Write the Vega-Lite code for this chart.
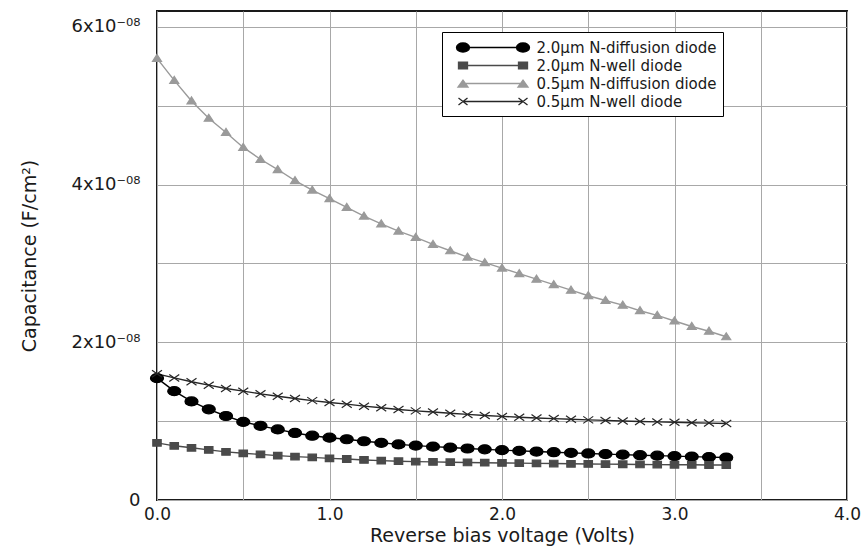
{
  "$schema": "https://vega.github.io/schema/vega-lite/v6.json",
  "autosize": {"type": "none"},
  "padding": {"left": 157, "top": 11, "right": 20, "bottom": 50},
  "width": 690,
  "height": 489,
  "config": {
    "view": {"stroke": "#1a1a1a", "strokeWidth": 2},
    "font": "DejaVu Sans",
    "axis": {
      "labelFont": "DejaVu Sans", "titleFont": "DejaVu Sans", "labelColor": "#1a1a1a", "titleColor": "#1a1a1a",
      "titleFontWeight": "normal", "gridColor": "#a8a8a8", "gridWidth": 1, "gridOpacity": 1,
      "domain": false, "ticks": false, "labelOverlap": false, "labelBound": false
    },
    "legend": {
      "title": null, "orient": "none", "legendX": 285, "legendY": 21,
      "strokeColor": "#000000", "fillColor": "#ffffff", "padding": 6,
      "labelFontSize": 15, "labelFont": "DejaVu Sans", "labelColor": "#1a1a1a",
      "rowPadding": 0, "labelLimit": 300
    }
  },
  "data": {"values": [
    {"diode": "2.0µm N-diffusion diode", "v": 0.0, "c": 1.545e-8},
    {"diode": "2.0µm N-diffusion diode", "v": 0.1, "c": 1.38e-8},
    {"diode": "2.0µm N-diffusion diode", "v": 0.2, "c": 1.25e-8},
    {"diode": "2.0µm N-diffusion diode", "v": 0.3, "c": 1.15e-8},
    {"diode": "2.0µm N-diffusion diode", "v": 0.4, "c": 1.065e-8},
    {"diode": "2.0µm N-diffusion diode", "v": 0.5, "c": 0.99e-8},
    {"diode": "2.0µm N-diffusion diode", "v": 0.6, "c": 0.94e-8},
    {"diode": "2.0µm N-diffusion diode", "v": 0.7, "c": 0.895e-8},
    {"diode": "2.0µm N-diffusion diode", "v": 0.8, "c": 0.85e-8},
    {"diode": "2.0µm N-diffusion diode", "v": 0.9, "c": 0.815e-8},
    {"diode": "2.0µm N-diffusion diode", "v": 1.0, "c": 0.79e-8},
    {"diode": "2.0µm N-diffusion diode", "v": 1.1, "c": 0.77e-8},
    {"diode": "2.0µm N-diffusion diode", "v": 1.2, "c": 0.745e-8},
    {"diode": "2.0µm N-diffusion diode", "v": 1.3, "c": 0.725e-8},
    {"diode": "2.0µm N-diffusion diode", "v": 1.4, "c": 0.705e-8},
    {"diode": "2.0µm N-diffusion diode", "v": 1.5, "c": 0.69e-8},
    {"diode": "2.0µm N-diffusion diode", "v": 1.6, "c": 0.677e-8},
    {"diode": "2.0µm N-diffusion diode", "v": 1.7, "c": 0.665e-8},
    {"diode": "2.0µm N-diffusion diode", "v": 1.8, "c": 0.653e-8},
    {"diode": "2.0µm N-diffusion diode", "v": 1.9, "c": 0.642e-8},
    {"diode": "2.0µm N-diffusion diode", "v": 2.0, "c": 0.632e-8},
    {"diode": "2.0µm N-diffusion diode", "v": 2.1, "c": 0.623e-8},
    {"diode": "2.0µm N-diffusion diode", "v": 2.2, "c": 0.614e-8},
    {"diode": "2.0µm N-diffusion diode", "v": 2.3, "c": 0.606e-8},
    {"diode": "2.0µm N-diffusion diode", "v": 2.4, "c": 0.598e-8},
    {"diode": "2.0µm N-diffusion diode", "v": 2.5, "c": 0.59e-8},
    {"diode": "2.0µm N-diffusion diode", "v": 2.6, "c": 0.582e-8},
    {"diode": "2.0µm N-diffusion diode", "v": 2.7, "c": 0.575e-8},
    {"diode": "2.0µm N-diffusion diode", "v": 2.8, "c": 0.568e-8},
    {"diode": "2.0µm N-diffusion diode", "v": 2.9, "c": 0.562e-8},
    {"diode": "2.0µm N-diffusion diode", "v": 3.0, "c": 0.556e-8},
    {"diode": "2.0µm N-diffusion diode", "v": 3.1, "c": 0.55e-8},
    {"diode": "2.0µm N-diffusion diode", "v": 3.2, "c": 0.544e-8},
    {"diode": "2.0µm N-diffusion diode", "v": 3.3, "c": 0.538e-8},
    {"diode": "2.0µm N-well diode", "v": 0.0, "c": 0.725e-8},
    {"diode": "2.0µm N-well diode", "v": 0.1, "c": 0.687e-8},
    {"diode": "2.0µm N-well diode", "v": 0.2, "c": 0.662e-8},
    {"diode": "2.0µm N-well diode", "v": 0.3, "c": 0.635e-8},
    {"diode": "2.0µm N-well diode", "v": 0.4, "c": 0.61e-8},
    {"diode": "2.0µm N-well diode", "v": 0.5, "c": 0.592e-8},
    {"diode": "2.0µm N-well diode", "v": 0.6, "c": 0.578e-8},
    {"diode": "2.0µm N-well diode", "v": 0.7, "c": 0.562e-8},
    {"diode": "2.0µm N-well diode", "v": 0.8, "c": 0.55e-8},
    {"diode": "2.0µm N-well diode", "v": 0.9, "c": 0.54e-8},
    {"diode": "2.0µm N-well diode", "v": 1.0, "c": 0.528e-8},
    {"diode": "2.0µm N-well diode", "v": 1.1, "c": 0.52e-8},
    {"diode": "2.0µm N-well diode", "v": 1.2, "c": 0.508e-8},
    {"diode": "2.0µm N-well diode", "v": 1.3, "c": 0.499e-8},
    {"diode": "2.0µm N-well diode", "v": 1.4, "c": 0.492e-8},
    {"diode": "2.0µm N-well diode", "v": 1.5, "c": 0.487e-8},
    {"diode": "2.0µm N-well diode", "v": 1.6, "c": 0.483e-8},
    {"diode": "2.0µm N-well diode", "v": 1.7, "c": 0.479e-8},
    {"diode": "2.0µm N-well diode", "v": 1.8, "c": 0.476e-8},
    {"diode": "2.0µm N-well diode", "v": 1.9, "c": 0.473e-8},
    {"diode": "2.0µm N-well diode", "v": 2.0, "c": 0.47e-8},
    {"diode": "2.0µm N-well diode", "v": 2.1, "c": 0.467e-8},
    {"diode": "2.0µm N-well diode", "v": 2.2, "c": 0.464e-8},
    {"diode": "2.0µm N-well diode", "v": 2.3, "c": 0.462e-8},
    {"diode": "2.0µm N-well diode", "v": 2.4, "c": 0.459e-8},
    {"diode": "2.0µm N-well diode", "v": 2.5, "c": 0.457e-8},
    {"diode": "2.0µm N-well diode", "v": 2.6, "c": 0.455e-8},
    {"diode": "2.0µm N-well diode", "v": 2.7, "c": 0.453e-8},
    {"diode": "2.0µm N-well diode", "v": 2.8, "c": 0.451e-8},
    {"diode": "2.0µm N-well diode", "v": 2.9, "c": 0.449e-8},
    {"diode": "2.0µm N-well diode", "v": 3.0, "c": 0.447e-8},
    {"diode": "2.0µm N-well diode", "v": 3.1, "c": 0.446e-8},
    {"diode": "2.0µm N-well diode", "v": 3.2, "c": 0.444e-8},
    {"diode": "2.0µm N-well diode", "v": 3.3, "c": 0.443e-8},
    {"diode": "0.5µm N-diffusion diode", "v": 0.0, "c": 5.6e-8},
    {"diode": "0.5µm N-diffusion diode", "v": 0.1, "c": 5.32e-8},
    {"diode": "0.5µm N-diffusion diode", "v": 0.2, "c": 5.06e-8},
    {"diode": "0.5µm N-diffusion diode", "v": 0.3, "c": 4.84e-8},
    {"diode": "0.5µm N-diffusion diode", "v": 0.4, "c": 4.66e-8},
    {"diode": "0.5µm N-diffusion diode", "v": 0.5, "c": 4.47e-8},
    {"diode": "0.5µm N-diffusion diode", "v": 0.6, "c": 4.32e-8},
    {"diode": "0.5µm N-diffusion diode", "v": 0.7, "c": 4.19e-8},
    {"diode": "0.5µm N-diffusion diode", "v": 0.8, "c": 4.05e-8},
    {"diode": "0.5µm N-diffusion diode", "v": 0.9, "c": 3.93e-8},
    {"diode": "0.5µm N-diffusion diode", "v": 1.0, "c": 3.82e-8},
    {"diode": "0.5µm N-diffusion diode", "v": 1.1, "c": 3.71e-8},
    {"diode": "0.5µm N-diffusion diode", "v": 1.2, "c": 3.6e-8},
    {"diode": "0.5µm N-diffusion diode", "v": 1.3, "c": 3.5e-8},
    {"diode": "0.5µm N-diffusion diode", "v": 1.4, "c": 3.41e-8},
    {"diode": "0.5µm N-diffusion diode", "v": 1.5, "c": 3.33e-8},
    {"diode": "0.5µm N-diffusion diode", "v": 1.6, "c": 3.24e-8},
    {"diode": "0.5µm N-diffusion diode", "v": 1.7, "c": 3.16e-8},
    {"diode": "0.5µm N-diffusion diode", "v": 1.8, "c": 3.08e-8},
    {"diode": "0.5µm N-diffusion diode", "v": 1.9, "c": 3.01e-8},
    {"diode": "0.5µm N-diffusion diode", "v": 2.0, "c": 2.94e-8},
    {"diode": "0.5µm N-diffusion diode", "v": 2.1, "c": 2.87e-8},
    {"diode": "0.5µm N-diffusion diode", "v": 2.2, "c": 2.8e-8},
    {"diode": "0.5µm N-diffusion diode", "v": 2.3, "c": 2.73e-8},
    {"diode": "0.5µm N-diffusion diode", "v": 2.4, "c": 2.66e-8},
    {"diode": "0.5µm N-diffusion diode", "v": 2.5, "c": 2.59e-8},
    {"diode": "0.5µm N-diffusion diode", "v": 2.6, "c": 2.53e-8},
    {"diode": "0.5µm N-diffusion diode", "v": 2.7, "c": 2.47e-8},
    {"diode": "0.5µm N-diffusion diode", "v": 2.8, "c": 2.4e-8},
    {"diode": "0.5µm N-diffusion diode", "v": 2.9, "c": 2.34e-8},
    {"diode": "0.5µm N-diffusion diode", "v": 3.0, "c": 2.27e-8},
    {"diode": "0.5µm N-diffusion diode", "v": 3.1, "c": 2.2e-8},
    {"diode": "0.5µm N-diffusion diode", "v": 3.2, "c": 2.14e-8},
    {"diode": "0.5µm N-diffusion diode", "v": 3.3, "c": 2.07e-8},
    {"diode": "0.5µm N-well diode", "v": 0.0, "c": 1.6e-8},
    {"diode": "0.5µm N-well diode", "v": 0.1, "c": 1.548e-8},
    {"diode": "0.5µm N-well diode", "v": 0.2, "c": 1.5e-8},
    {"diode": "0.5µm N-well diode", "v": 0.3, "c": 1.456e-8},
    {"diode": "0.5µm N-well diode", "v": 0.4, "c": 1.414e-8},
    {"diode": "0.5µm N-well diode", "v": 0.5, "c": 1.38e-8},
    {"diode": "0.5µm N-well diode", "v": 0.6, "c": 1.346e-8},
    {"diode": "0.5µm N-well diode", "v": 0.7, "c": 1.316e-8},
    {"diode": "0.5µm N-well diode", "v": 0.8, "c": 1.287e-8},
    {"diode": "0.5µm N-well diode", "v": 0.9, "c": 1.26e-8},
    {"diode": "0.5µm N-well diode", "v": 1.0, "c": 1.236e-8},
    {"diode": "0.5µm N-well diode", "v": 1.1, "c": 1.215e-8},
    {"diode": "0.5µm N-well diode", "v": 1.2, "c": 1.19e-8},
    {"diode": "0.5µm N-well diode", "v": 1.3, "c": 1.17e-8},
    {"diode": "0.5µm N-well diode", "v": 1.4, "c": 1.148e-8},
    {"diode": "0.5µm N-well diode", "v": 1.5, "c": 1.13e-8},
    {"diode": "0.5µm N-well diode", "v": 1.6, "c": 1.115e-8},
    {"diode": "0.5µm N-well diode", "v": 1.7, "c": 1.1e-8},
    {"diode": "0.5µm N-well diode", "v": 1.8, "c": 1.085e-8},
    {"diode": "0.5µm N-well diode", "v": 1.9, "c": 1.072e-8},
    {"diode": "0.5µm N-well diode", "v": 2.0, "c": 1.06e-8},
    {"diode": "0.5µm N-well diode", "v": 2.1, "c": 1.05e-8},
    {"diode": "0.5µm N-well diode", "v": 2.2, "c": 1.04e-8},
    {"diode": "0.5µm N-well diode", "v": 2.3, "c": 1.032e-8},
    {"diode": "0.5µm N-well diode", "v": 2.4, "c": 1.024e-8},
    {"diode": "0.5µm N-well diode", "v": 2.5, "c": 1.016e-8},
    {"diode": "0.5µm N-well diode", "v": 2.6, "c": 1.009e-8},
    {"diode": "0.5µm N-well diode", "v": 2.7, "c": 1.002e-8},
    {"diode": "0.5µm N-well diode", "v": 2.8, "c": 0.996e-8},
    {"diode": "0.5µm N-well diode", "v": 2.9, "c": 0.99e-8},
    {"diode": "0.5µm N-well diode", "v": 3.0, "c": 0.985e-8},
    {"diode": "0.5µm N-well diode", "v": 3.1, "c": 0.98e-8},
    {"diode": "0.5µm N-well diode", "v": 3.2, "c": 0.975e-8},
    {"diode": "0.5µm N-well diode", "v": 3.3, "c": 0.97e-8}
  ]},
  "encoding": {
    "x": {
      "field": "v", "type": "quantitative",
      "scale": {"domain": [0, 4], "nice": false, "zero": false},
      "axis": {
        "title": "Reverse bias voltage (Volts)", "titleFontSize": 19, "titlePadding": 4,
        "values": [0, 0.5, 1, 1.5, 2, 2.5, 3, 3.5, 4],
        "labelExpr": "datum.value % 1 == 0 ? format(datum.value, '.1f') : ''",
        "labelFontSize": 17, "labelPadding": 6, "labelFlush": false
      }
    },
    "y": {
      "field": "c", "type": "quantitative",
      "scale": {"domain": [0, 6.2e-8], "nice": false},
      "axis": {
        "title": "Capacitance (F/cm²)", "titleFontSize": 19, "titlePadding": 32,
        "values": [0, 1e-8, 2e-8, 3e-8, 4e-8, 5e-8, 6e-8],
        "labelExpr": "datum.value == 0 ? '0' : (round(datum.value * 1e8) % 2 == 0 ? round(datum.value * 1e8) + 'x10⁻⁰⁸' : '')",
        "labelFontSize": 18, "labelPadding": 17
      }
    }
  },
  "layer": [
    {
      "mark": {"type": "line", "strokeWidth": 1.4},
      "encoding": {
        "stroke": {
          "field": "diode", "type": "nominal",
          "scale": {
            "domain": ["2.0µm N-diffusion diode", "2.0µm N-well diode", "0.5µm N-diffusion diode", "0.5µm N-well diode"],
            "range": ["#000000", "#4a4a4a", "#9a9a9a", "#262626"]
          },
          "legend": {
            "symbolType": {"expr": "datum.value === '2.0µm N-diffusion diode' ? 'M-3.53,0L3.53,0M-4.295,0A0.765,0.53,0,1,0,-2.765,0A0.765,0.53,0,1,0,-4.295,0ZM2.765,0A0.765,0.53,0,1,0,4.295,0A0.765,0.53,0,1,0,2.765,0Z' : datum.value === '2.0µm N-well diode' ? 'M-3.53,0L3.53,0M-4.06,-0.38H-3V0.38H-4.06ZM3,-0.38H4.06V0.38H3Z' : datum.value === '0.5µm N-diffusion diode' ? 'M-3.53,0L3.53,0M-4.12,0.41L-2.94,0.41L-3.53,-0.41ZM2.94,0.41L4.12,0.41L3.53,-0.41Z' : 'M-3.53,0L3.53,0M-4.06,-0.41L-3,0.41M-4.06,0.41L-3,-0.41M3,-0.41L4.06,0.41M3,0.41L4.06,-0.41'"},
            "symbolFillColor": {"expr": "datum.value === '2.0µm N-diffusion diode' ? '#000000' : datum.value === '2.0µm N-well diode' ? '#4a4a4a' : datum.value === '0.5µm N-diffusion diode' ? '#9a9a9a' : 'transparent'"},
            "symbolStrokeWidth": 1.3,
            "symbolSize": 289,
            "symbolOffset": 35.5,
            "labelOffset": 34,
            "symbolOpacity": 1
          }
        }
      }
    },
    {
      "mark": {"type": "point", "filled": true, "size": 400, "strokeWidth": 1.2, "opacity": 1},
      "encoding": {
        "fill": {
          "condition": [
            {"test": "datum.diode === '2.0µm N-diffusion diode'", "value": "#000000"},
            {"test": "datum.diode === '2.0µm N-well diode'", "value": "#4a4a4a"},
            {"test": "datum.diode === '0.5µm N-diffusion diode'", "value": "#9a9a9a"}
          ],
          "value": "#262626"
        },
        "stroke": {
          "condition": [
            {"test": "datum.diode === '2.0µm N-diffusion diode'", "value": "#000000"},
            {"test": "datum.diode === '2.0µm N-well diode'", "value": "#4a4a4a"},
            {"test": "datum.diode === '0.5µm N-diffusion diode'", "value": "#9a9a9a"}
          ],
          "value": "#262626"
        },
        "shape": {
          "condition": [
            {"test": "datum.diode === '2.0µm N-diffusion diode'", "value": "M-0.65,0A0.65,0.45,0,1,0,0.65,0A0.65,0.45,0,1,0,-0.65,0Z"},
            {"test": "datum.diode === '2.0µm N-well diode'", "value": "M-0.42,-0.33H0.42V0.33H-0.42Z"},
            {"test": "datum.diode === '0.5µm N-diffusion diode'", "value": "M-0.45,0.3L0.45,0.3L0,-0.4Z"}
          ],
          "value": "M-0.5,-0.35L0.5,0.35M-0.5,0.35L0.5,-0.35"
        }
      }
    }
  ]
}
